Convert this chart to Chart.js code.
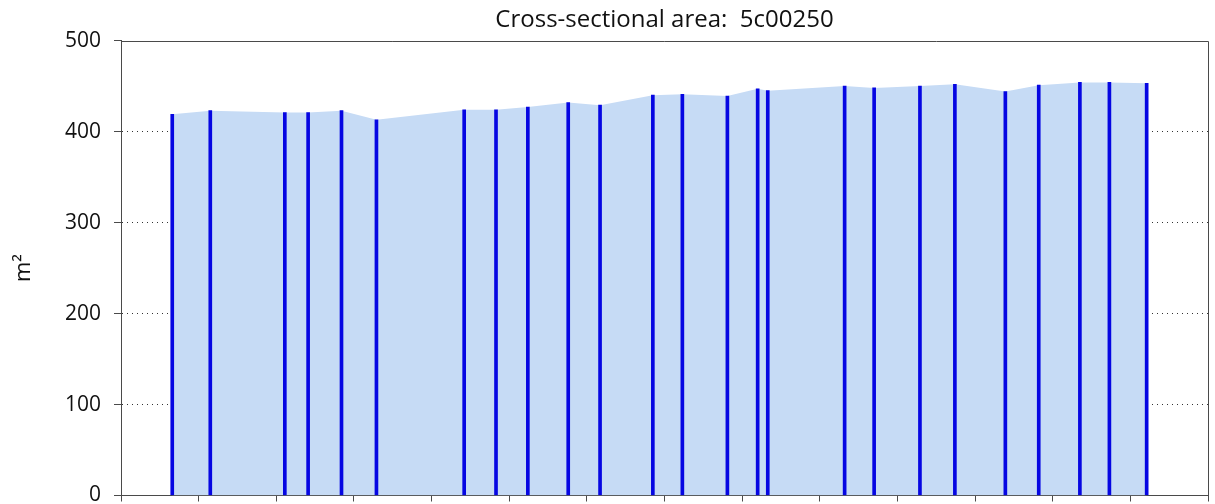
<!DOCTYPE html>
<html>
<head>
<meta charset="utf-8">
<title>Cross-sectional area</title>
<script src="https://cdn.jsdelivr.net/npm/chart.js@4/dist/chart.umd.min.js"></script>
<style>
  html, body { margin: 0; padding: 0; background: #ffffff; }
  #wrap { width: 1215px; height: 504px; position: relative; }
</style>
</head>
<body>
<div id="wrap"><canvas id="chart"></canvas></div>
<script>
// Surveyed cross-sections: chainage along the reach and wetted area (m²)
const chainage = [0.66, 1.15, 2.11, 2.41, 2.84, 3.29, 4.42, 4.83, 5.24, 5.76, 6.17, 6.85, 7.23,
                  7.81, 8.20, 8.33, 9.32, 9.70, 10.29, 10.74, 11.39, 11.82, 12.35, 12.73, 13.21];
const areaM2   = [419, 423, 421, 421, 423, 413, 424, 424, 427, 432, 429, 440, 441,
                  439, 447, 445, 450, 448, 450, 452, 444, 451, 454, 454, 453];
const xTicks   = [0, 1, 2, 3, 4, 5, 6, 7, 8, 9, 10, 11, 12, 13, 14];
const yTicks   = [0, 100, 200, 300, 400, 500];
const chartTitle = 'Cross-sectional area:  5c00250';

const points = chainage.map((x, i) => ({ x: x, y: areaM2[i] }));
const yMax = yTicks[yTicks.length - 1];

// Outline the top and right edges of the plot box
const framePlugin = {
  id: 'frame',
  afterDraw(chart) {
    const { ctx, chartArea: a } = chart;
    ctx.save();
    ctx.strokeStyle = '#4a4a4a';
    ctx.lineWidth = 1;
    ctx.beginPath();
    ctx.moveTo(a.left, Math.round(a.top) + 0.5);
    ctx.lineTo(Math.round(a.right) + 0.5, Math.round(a.top) + 0.5);
    ctx.lineTo(Math.round(a.right) + 0.5, a.bottom);
    ctx.stroke();
    ctx.restore();
  }
};

new Chart(document.getElementById('chart'), {
  type: 'bar',
  data: {
    datasets: [
      {
        type: 'bar',
        label: 'Section',
        data: points,
        backgroundColor: '#0606e2',
        borderWidth: 0,
        barThickness: 3,
        order: 1
      },
      {
        type: 'line',
        label: 'Area',
        data: points,
        fill: 'origin',
        backgroundColor: '#c6dbf5',
        borderWidth: 0,
        borderColor: 'rgba(0,0,0,0)',
        pointRadius: 0,
        tension: 0,
        order: 2
      }
    ]
  },
  options: {
    responsive: true,
    maintainAspectRatio: false,
    animation: false,
    layout: { padding: { left: 0, right: 7, top: 0, bottom: 0 } },
    plugins: {
      legend: { display: false },
      tooltip: { enabled: false },
      title: {
        display: true,
        text: chartTitle,
        fullSize: false,
        color: '#111111',
        font: { family: "'Open Sans', sans-serif", size: 24, weight: 'normal', lineHeight: 1.2 },
        padding: { top: 5.9, bottom: 5.9 }
      }
    },
    scales: {
      x: {
        type: 'linear',
        min: xTicks[0],
        max: xTicks[xTicks.length - 1],
        offset: false,
        afterBuildTicks: s => { s.ticks = xTicks.map(v => ({ value: v })); },
        afterFit: s => {
          s.height = 8.5;
          s.paddingLeft = 0; s.paddingRight = 0; s.paddingTop = 0; s.paddingBottom = 0;
        },
        ticks: { display: false },
        grid: {
          offset: false,
          drawOnChartArea: false,
          drawTicks: true,
          tickLength: 6,
          tickColor: '#4a4a4a',
          color: '#4a4a4a'
        },
        border: { display: true, color: '#4a4a4a', width: 1 }
      },
      y: {
        type: 'linear',
        min: yTicks[0],
        max: yMax,
        afterBuildTicks: s => { s.ticks = yTicks.map(v => ({ value: v })); },
        afterFit: s => {
          s.width = 121;
          s.paddingLeft = 0; s.paddingRight = 0; s.paddingTop = 0; s.paddingBottom = 0;
        },
        ticks: {
          color: '#111111',
          padding: 13,
          font: { family: "'Open Sans', sans-serif", size: 21 }
        },
        grid: {
          // dotted guides inside the plot; the top edge is drawn solid by the frame
          color: c => (c.tick && c.tick.value === yMax) ? 'rgba(0,0,0,0)' : '#333333',
          drawTicks: true,
          tickLength: 7,
          tickColor: '#4a4a4a',
          tickBorderDash: []
        },
        border: { display: true, color: '#4a4a4a', width: 1, dash: [1, 4] },
        title: {
          display: true,
          text: 'm²',
          color: '#111111',
          font: { family: "'Open Sans', sans-serif", size: 22, lineHeight: 1.2 },
          padding: { top: 11, bottom: 0 }
        }
      }
    }
  },
  plugins: [framePlugin]
});
</script>
</body>
</html>
